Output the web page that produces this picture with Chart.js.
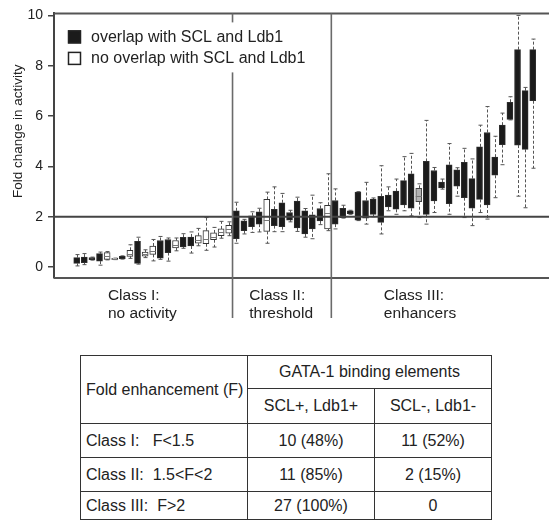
<!DOCTYPE html>
<html>
<head>
<meta charset="utf-8">
<script src="https://cdn.jsdelivr.net/npm/chart.js@4.4.1/dist/chart.umd.min.js"></script>
<style>
  html, body { margin: 0; padding: 0; background: #fff; }
  body { width: 549px; height: 520px; position: relative; overflow: hidden;
         font-family: "Liberation Sans", Arial, sans-serif; color: #222; }
  #chart { position: absolute; left: 0; top: 0; }
  #tbl { position: absolute; left: 80px; top: 355px; width: 411px; border-collapse: collapse;
         table-layout: fixed; font-size: 16px; }
  #tbl td { border: 1.5px solid #333; padding: 0 5px; white-space: pre; text-align: center; }
  #tbl td.lab { text-align: left; }
</style>
</head>
<body>
<canvas id="chart" width="549" height="330"></canvas>
<table id="tbl">
  <colgroup><col style="width:167px"><col style="width:127px"><col style="width:117px"></colgroup>
  <tbody id="tbody"></tbody>
</table>
<script>
// S = overlap with SCL and Ldb1, N = no overlap, G = grey box
const boxType = [
  'S','S','S','S','N','N','S','N','S','N','N','S','S','N','S','S','N','N','N','N','N',
  'S','S','S','S','N','S','S','S','S','S','S','S','N',
  'S','S','S','S','S','S','S','S','S','S','S','G','S','S','S','S','S','S','S','S','S','S','S','S','S','S','S'
];
const q1 = [
  0.15,0.18,0.30,0.24,0.31,0.31,0.34,0.43,0.15,0.44,0.51,0.36,0.58,0.76,0.80,0.84,0.95,0.93,1.09,1.25,1.35,
  1.13,1.45,1.61,1.71,1.42,1.65,1.61,1.87,1.56,1.32,1.52,1.84,1.52,
  1.71,1.97,2.13,1.87,1.95,2.10,1.78,2.39,2.30,2.47,2.34,2.60,2.10,2.63,3.15,2.52,3.22,2.76,2.34,2.69,2.47,3.65,4.87,5.87,4.85,4.68,6.61
];
const q3 = [
  0.38,0.40,0.38,0.54,0.58,0.35,0.43,0.67,1.03,0.60,0.84,1.06,1.10,1.06,1.19,1.20,1.25,1.45,1.36,1.52,1.66,
  2.24,1.84,2.04,2.20,2.69,2.30,2.56,2.17,2.63,2.24,2.08,2.33,2.46,
  2.65,2.34,2.24,2.98,2.65,2.70,2.81,2.86,3.02,3.44,3.71,3.13,4.20,3.84,3.38,4.07,3.87,4.16,3.52,4.78,5.35,4.37,5.64,6.55,8.64,7.01,8.64
];
const whiskerLow = [
  0.05,0.10,0.28,0.08,0.29,0.30,0.32,0.35,0.12,0.38,0.25,0.31,0.24,0.65,0.75,0.56,0.85,0.67,0.80,1.15,1.25,
  0.95,1.32,1.38,1.40,0.95,1.41,1.41,1.80,1.42,1.19,1.13,1.69,1.45,
  1.52,1.95,2.10,1.85,1.71,2.00,1.32,2.24,2.10,2.24,2.04,1.97,1.71,2.17,3.10,2.10,2.82,1.97,1.65,2.17,1.91,2.76,4.07,5.85,2.82,2.36,3.93
];
const whiskerHigh = [
  0.50,0.54,0.40,0.60,0.62,0.36,0.45,0.89,1.19,0.69,1.10,1.22,1.16,1.16,1.33,1.40,1.54,1.97,1.58,1.82,1.80,
  2.58,1.90,2.20,2.34,2.98,3.19,2.93,2.26,2.78,2.33,2.86,2.56,3.71,
  3.11,2.46,2.26,3.00,3.37,2.75,4.03,3.19,3.50,4.39,4.52,3.31,5.83,3.96,3.50,4.91,3.95,4.72,4.30,5.64,6.38,5.20,6.12,6.77,10.0,7.14,9.06
];
const medians = [
  null,null,null,null,0.45,0.33,null,0.54,null,0.52,0.66,null,null,0.90,null,null,1.08,1.10,1.20,1.38,1.50,
  null,null,null,null,1.87,null,null,null,null,null,null,null,2.17,
  null,null,null,null,null,null,null,null,null,null,null,2.82,null,null,null,null,null,null,null,null,null,null,null,null,null,null,null
];
const yTicks = [0, 2, 4, 6, 8, 10];
const threshold = 2;
const classBreaks = [20.5, 33.5];
const classLabels = [['Class I:', 'no activity'], ['Class II:', 'threshold'], ['Class III:', 'enhancers']];
const yTitle = 'Fold change in activity';

// table
const tableHead = ['Fold enhancement (F)', 'GATA-1 binding elements', 'SCL+, Ldb1+', 'SCL-, Ldb1-'];
const tableClasses = ['Class I:   F<1.5', 'Class II:  1.5<F<2', 'Class III:  F>2'];
const sclPlus = ['10 (48%)', '11 (85%)', '27 (100%)'];
const sclMinus = ['11 (52%)', '2 (15%)', '0'];

function cell(tr, text, cls, span) {
  const td = document.createElement('td');
  td.textContent = text;
  if (cls) td.className = cls;
  if (span) Object.assign(td, span);
  tr.appendChild(td);
}
const tbody = document.getElementById('tbody');
const heights = [33, 35, 34, 34, 28];
const rows = heights.map(h => { const tr = document.createElement('tr'); tr.style.height = h + 'px'; tbody.appendChild(tr); return tr; });
cell(rows[0], tableHead[0], 'lab', { rowSpan: 2 });
cell(rows[0], tableHead[1], '', { colSpan: 2 });
cell(rows[1], tableHead[2]);
cell(rows[1], tableHead[3]);
tableClasses.forEach((c, i) => {
  cell(rows[i + 2], c, 'lab');
  cell(rows[i + 2], sclPlus[i]);
  cell(rows[i + 2], sclMinus[i]);
});

function boxesOf(type) {
  const out = [];
  boxType.forEach((t, i) => { if (t === type) out.push({ x: i, y: [q1[i], q3[i]] }); });
  return out;
}

Chart.defaults.font.family = '"Liberation Sans", Arial, sans-serif';
Chart.defaults.color = '#222';

const boxExtras = {
  id: 'boxExtras',
  beforeDatasetsDraw(chart) {
    const ctx = chart.ctx, xs = chart.scales.x, ys = chart.scales.y;
    ctx.save();
    ctx.strokeStyle = '#555';
    ctx.lineWidth = 1;
    for (let i = 0; i < q1.length; i++) {
      const x = Math.round(xs.getPixelForValue(i)) + 0.5;
      const yHi = ys.getPixelForValue(whiskerHigh[i]), yLo = ys.getPixelForValue(whiskerLow[i]);
      ctx.setLineDash([3, 2]);
      ctx.beginPath();
      ctx.moveTo(x, ys.getPixelForValue(q3[i])); ctx.lineTo(x, yHi);
      ctx.moveTo(x, ys.getPixelForValue(q1[i])); ctx.lineTo(x, yLo);
      ctx.stroke();
      ctx.setLineDash([]);
      ctx.beginPath();
      ctx.moveTo(x - 2, yHi); ctx.lineTo(x + 2, yHi);
      ctx.moveTo(x - 2, yLo); ctx.lineTo(x + 2, yLo);
      ctx.stroke();
    }
    ctx.restore();
  },
  afterDatasetsDraw(chart) {
    const ctx = chart.ctx, xs = chart.scales.x, ys = chart.scales.y, a = chart.chartArea;
    ctx.save();
    // medians of the open / grey boxes
    ctx.strokeStyle = '#777';
    ctx.lineWidth = 1;
    medians.forEach((m, i) => {
      if (m === null) return;
      const x = xs.getPixelForValue(i), y = Math.round(ys.getPixelForValue(m)) + 0.5;
      ctx.beginPath(); ctx.moveTo(x - 3, y); ctx.lineTo(x + 3, y); ctx.stroke();
    });
    // frame top / bottom
    ctx.strokeStyle = '#555';
    ctx.lineWidth = 2;
    ctx.beginPath();
    ctx.moveTo(a.left, a.top); ctx.lineTo(a.right, a.top);
    ctx.moveTo(a.left, a.bottom); ctx.lineTo(a.right, a.bottom);
    ctx.stroke();
    // threshold line
    ctx.strokeStyle = '#444';
    const yt = ys.getPixelForValue(threshold);
    ctx.beginPath(); ctx.moveTo(a.left, yt); ctx.lineTo(a.right, yt); ctx.stroke();
    // class dividers
    ctx.strokeStyle = '#6a6a6a';
    ctx.lineWidth = 1.6;
    classBreaks.forEach(b => {
      const x = xs.getPixelForValue(b);
      ctx.beginPath(); ctx.moveTo(x, a.top); ctx.lineTo(x, a.bottom + 40); ctx.stroke();
    });
    // legend
    ctx.fillStyle = '#fff';
    ctx.fillRect(a.left + 6, a.top + 9, 260, 50);
    ctx.font = '16px "Liberation Sans", Arial, sans-serif';
    ctx.textBaseline = 'middle';
    ctx.textAlign = 'left';
    chart.data.datasets.filter(d => d.inLegend).forEach((d, k) => {
      const ly = a.top + 17 + k * 21.5;
      ctx.fillStyle = d.backgroundColor;
      ctx.fillRect(a.left + 14, ly, 13, 13);
      ctx.strokeStyle = '#222';
      ctx.lineWidth = 1.5;
      ctx.strokeRect(a.left + 14.5, ly + 0.5, 12, 12);
      ctx.fillStyle = '#222';
      ctx.fillText(d.label, a.left + 37, ly + 7);
    });
    // class labels under the axis
    ctx.font = '15.5px "Liberation Sans", Arial, sans-serif';
    const labelAt = [4.1, 22.7, 40.4];
    classLabels.forEach((lines, k) => {
      const x = xs.getPixelForValue(labelAt[k]);
      ctx.fillText(lines[0], x, a.bottom + 18);
      ctx.fillText(lines[1], x, a.bottom + 36);
    });
    // y axis title
    ctx.font = '13.5px "Liberation Sans", Arial, sans-serif';
    ctx.textAlign = 'center';
    ctx.translate(18, ys.getPixelForValue(5.4));
    ctx.rotate(-Math.PI / 2);
    ctx.fillText(yTitle, 0, 0);
    ctx.restore();
  }
};

new Chart(document.getElementById('chart').getContext('2d'), {
  type: 'bar',
  data: {
    datasets: [
      { label: 'overlap with SCL and Ldb1', inLegend: true, data: boxesOf('S'),
        backgroundColor: '#1b1b1b', borderColor: '#2e2e2e', borderWidth: 1 },
      { label: 'no overlap with SCL and Ldb1', inLegend: true, data: boxesOf('N'),
        backgroundColor: '#ffffff', borderColor: '#333', borderWidth: 1 },
      { label: 'other', data: boxesOf('G'),
        backgroundColor: '#b3b3b3', borderColor: '#444', borderWidth: 1 }
    ].map(d => Object.assign(d, { grouped: false, barThickness: 6, borderSkipped: false }))
  },
  options: {
    responsive: false,
    animation: false,
    layout: { padding: { left: 0, right: 0, top: 11, bottom: 52 } },
    plugins: { legend: { display: false }, tooltip: { enabled: false } },
    scales: {
      x: { type: 'linear', min: -2.99, max: 62.14, offset: false, display: false },
      y: {
        min: -0.43, max: 10.08,
        afterBuildTicks: s => { s.ticks = yTicks.map(v => ({ value: v })); },
        afterFit: s => { s.width = 54; },
        ticks: { font: { size: 14 }, color: '#222', padding: 5 },
        grid: { display: true, drawOnChartArea: false, drawTicks: true, tickLength: 6, color: '#444', lineWidth: 1.5 },
        border: { display: true, color: '#444', width: 2 }
      }
    }
  },
  plugins: [boxExtras]
});
</script>
</body>
</html>
